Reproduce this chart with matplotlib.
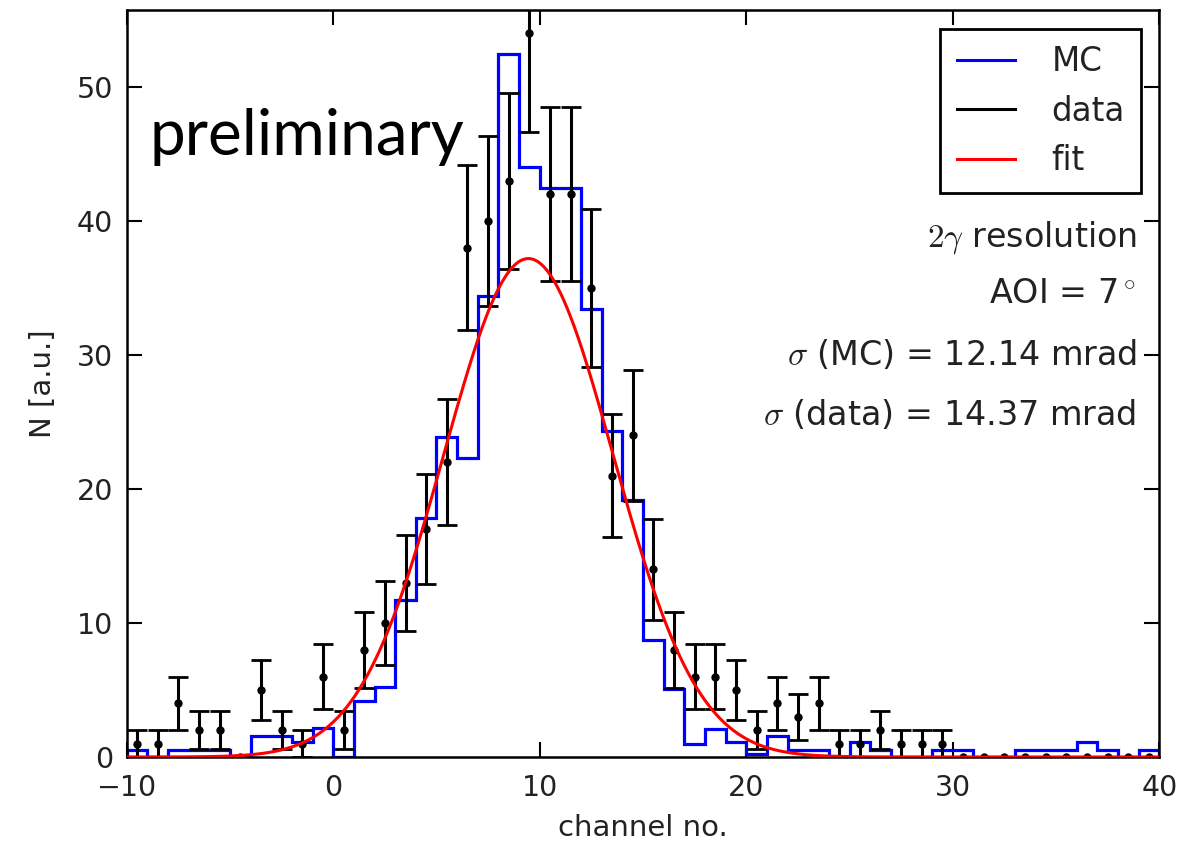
import numpy as np
import matplotlib
matplotlib.use("Agg")
import matplotlib.pyplot as plt
from matplotlib.lines import Line2D

# ---- data ----
bin_edges = np.arange(-10, 41, 1)
mc_values = [0.55, 0, 0.55, 0.55, 0.55, 0, 1.6, 1.6, 1.1, 2.2,
             0, 4.2, 5.2, 11.7, 17.8, 23.9, 22.3, 34.4, 52.5, 44.0,
             42.5, 42.5, 33.4, 24.3, 19.2, 8.7, 5.1, 1.0, 2.1, 1.1,
             0.25, 1.6, 0.55, 0.55, 0, 1.1, 0.55, 0, 0, 0.55,
             0.55, 0, 0, 0.55, 0.55, 0.55, 1.1, 0.55, 0, 0.55]
data_x = np.arange(-9.5, 40, 1.0)
data_counts = [1, 1, 4, 2, 2, 0, 5, 2, 1, 6,
               2, 8, 10, 13, 17, 22, 38, 40, 43, 54,
               42, 42, 35, 21, 24, 14, 8, 6, 6, 5,
               2, 4, 3, 4, 1, 1, 2, 1, 1, 1,
               0, 0, 0, 0, 0, 0, 0, 0, 0, 0]
fit_amp = 37.2
fit_mu = 9.45
fit_sigma = 4.1
legend_labels = ["MC", "data", "fit"]
info_lines = [r"$2\gamma$ resolution", r"AOI = 7$^\circ$",
              r"$\sigma$ (MC) = 12.14 mrad", r"$\sigma$ (data) = 14.37 mrad"]

plt.rcParams['font.family'] = ['DejaVu Sans']
plt.rcParams['mathtext.fontset'] = 'cm'

fig = plt.figure(figsize=(11.96, 8.44), dpi=100)
ax = fig.add_axes([126.7/1196, 87/844, 1032.6/1196, 747/844])

ax.stairs(mc_values, bin_edges, color='blue', lw=2.3, zorder=2)

counts = np.array(data_counts, dtype=float)
ax.errorbar(data_x, counts, yerr=np.sqrt(counts), fmt='o', color='black',
            ms=5, lw=2.2, capsize=7.5, capthick=2.0, zorder=3)

xf = np.linspace(-10, 40, 1000)
ax.plot(xf, fit_amp*np.exp(-(xf-fit_mu)**2/(2*fit_sigma**2)), color='red', lw=2.2, zorder=4)

ax.set_xlim(-10, 40)
ax.set_ylim(0, 55.75)
ax.set_xticks([-10, 0, 10, 20, 30, 40])
ax.set_xticklabels(["\u221210", "0", "10", "20", "30", "40"])
ax.set_yticks([0, 10, 20, 30, 40, 50])
ax.tick_params(direction='in', top=True, right=True, length=11, width=1.5,
               labelsize=20.5, colors='black', labelcolor='#222222')
ax.tick_params(axis='x', pad=12)
ax.tick_params(axis='y', pad=10)
for s in ax.spines.values():
    s.set_linewidth(1.8)
ax.set_xlabel("channel no.", fontsize=21, color='#222222', labelpad=9)
ax.set_ylabel("N [a.u.]", fontsize=21, color='#222222', labelpad=14)

handles = [Line2D([], [], color=c, lw=2.2) for c in ['blue', 'black', 'red']]
leg = ax.legend(handles, legend_labels, loc='upper right',
                bbox_to_anchor=(0.9823, 0.9746), borderaxespad=0,
                fontsize=23.5, fancybox=False, framealpha=1, edgecolor='black',
                handlelength=1.8, handletextpad=1.1, labelspacing=0.5,
                borderpad=0.5)
leg.get_frame().set_linewidth(2.0)
for t in leg.get_texts():
    t.set_color('#222222')

ys = [0.695, 0.620, 0.538, 0.458]
for txt, y in zip(info_lines, ys):
    ax.text(0.978, y, txt, transform=ax.transAxes, ha='right', va='center',
            fontsize=24, color='#222222')

fig.text(150/1196, 1-155/844, "preliminary", fontsize=46, family=['Lato', 'DejaVu Sans'],
         ha='left', va='baseline', color='black')

fig.savefig("out.png", dpi=100)
